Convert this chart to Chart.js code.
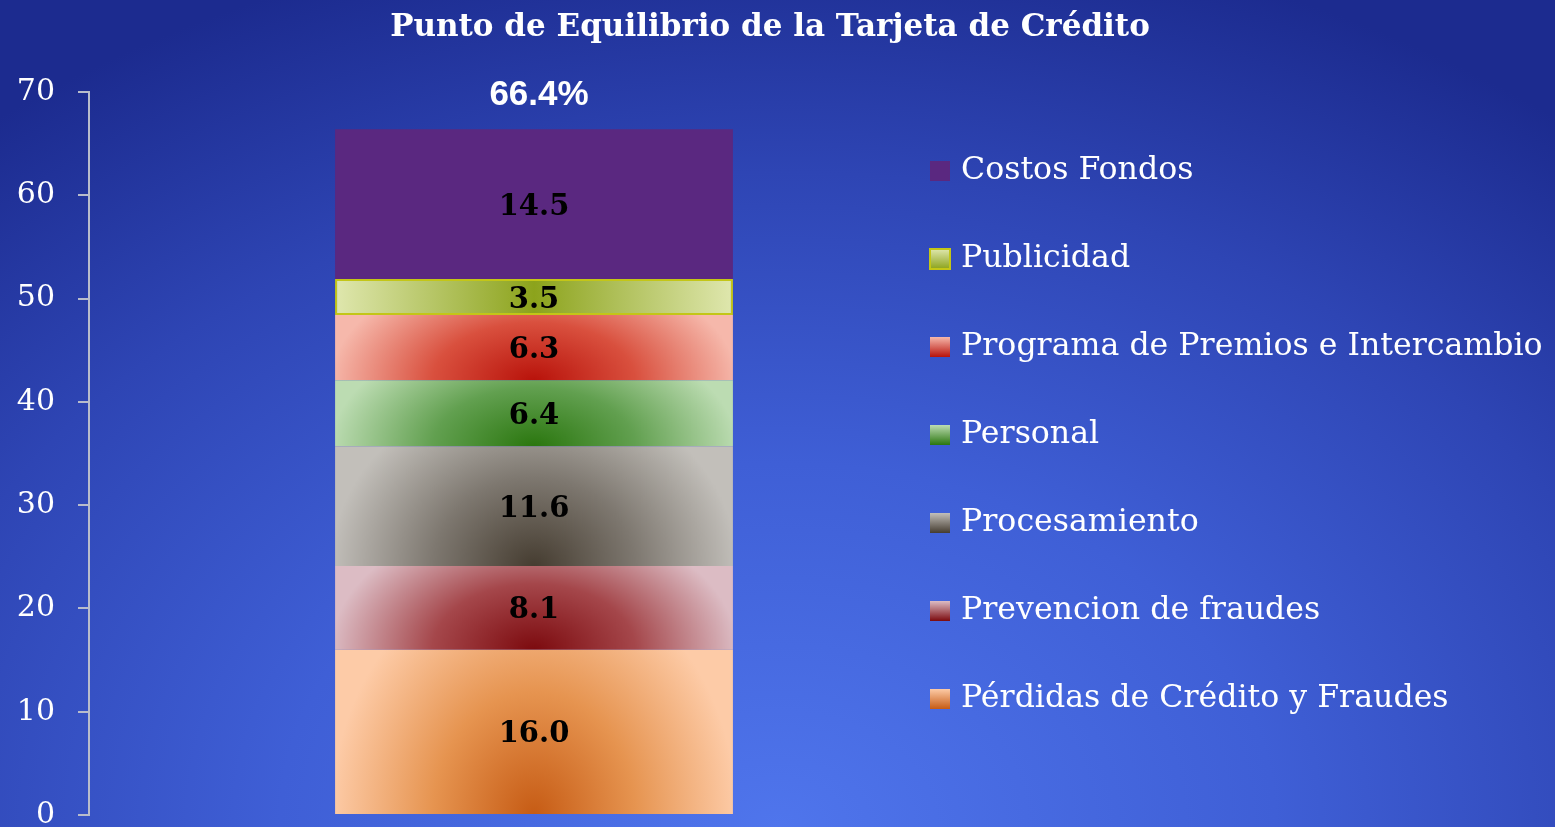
<!DOCTYPE html>
<html><head><meta charset="utf-8">
<script src="https://cdn.jsdelivr.net/npm/chart.js@4"></script>
<style>
html,body{margin:0;padding:0;width:1555px;height:827px;overflow:hidden;
background: radial-gradient(ellipse 80% 110% at 50% 100%, #4f75ec 0%, #3f5fd6 40%, #2e45b4 72%, #1c2b8f 100%);}
canvas{display:block}
</style></head><body>
<canvas id="c" width="1555" height="827"></canvas>
<script>
const categories = ['Punto de Equilibrio'];
const seriesNames = ['Pérdidas de Crédito y Fraudes','Prevencion de fraudes','Procesamiento','Personal','Programa de Premios e Intercambio','Publicidad','Costos Fondos'];
const seriesValues = [16.0, 8.1, 11.6, 6.4, 6.3, 3.5, 14.5];
const totalLabels = ['66.4%'];
const yTickValues = [0,10,20,30,40,50,60,70];
const chartTitle = 'Punto de Equilibrio de la Tarjeta de Crédito';

const palette = [
  {type:'radial', dark:'#c65b14', mid:'#e69450', light:'#fdcba7', ry:1.5},
  {type:'radial', dark:'#7c0a0e', mid:'#a5474b', light:'#dcbcc4', ry:1.6},
  {type:'radial', dark:'#453c30', mid:'#7e7870', light:'#c2bfba', ry:1.5},
  {type:'radial', dark:'#2a760e', mid:'#62a050', light:'#bcdcb2', ry:1.8},
  {type:'radial', dark:'#b8120a', mid:'#d9503e', light:'#f6b8ab', ry:1.8},
  {type:'linear', dark:'#8ca31c', mid:'#b3c25a', light:'#dfe7ae', border:'#c3c617'},
  {type:'solid', dark:'#5a2880', mid:'#5a2880', light:'#5a2880'}
];
const BAR_PCT = 0.447;
const SERIF = '"DejaVu Serif", serif';

function segBounds(chart, i){
  const s = chart.scales;
  const base = seriesValues.slice(0,i).reduce((a,b)=>a+b,0);
  const yb = s.y.getPixelForValue(base);
  const yt = s.y.getPixelForValue(base+seriesValues[i]);
  const cx = s.x.getPixelForValue(0);
  const w = (chart.chartArea.right-chart.chartArea.left)*BAR_PCT;
  return {yb, yt, cx, w};
}
function makeBg(i){
  return (ctx) => {
    const chart = ctx.chart, p = palette[i];
    if (!chart.chartArea || !chart.scales.y) return p.mid;
    if (p.type==='solid') return p.dark;
    const {yb, yt, cx, w} = segBounds(chart, i);
    const c = chart.ctx;
    if (p.type==='linear'){
      const g = c.createLinearGradient(cx-w/2,0,cx+w/2,0);
      g.addColorStop(0,p.light); g.addColorStop(0.5,p.dark); g.addColorStop(1,p.light);
      return g;
    }
    const W = Math.ceil(w)+2, H = Math.ceil(yb-yt)+2;
    const off = document.createElement('canvas');
    off.width = W; off.height = H;
    const o = off.getContext('2d');
    const ry = (yb-yt)*p.ry, rx = w/2*1.02;
    o.save();
    o.translate(W/2, H);
    o.scale(1, ry/rx);
    const g = o.createRadialGradient(0,0,0,0,0,rx);
    g.addColorStop(0,p.dark); g.addColorStop(0.5,p.mid); g.addColorStop(1,p.light);
    o.fillStyle = g;
    o.fillRect(-W, -H*rx/ry*1.2, 2*W, H*rx/ry*2.4);
    o.restore();
    const pat = c.createPattern(off, 'repeat');
    pat.setTransform(new DOMMatrix().translate(cx - W/2, yb - H + 1));
    return pat;
  };
}

const datasets = seriesNames.map((name,i)=>({
  label:name,
  data:[seriesValues[i]],
  backgroundColor: makeBg(i),
  borderColor: palette[i].border || 'rgba(0,0,0,0)',
  borderWidth: palette[i].border ? 2 : 0,
  borderSkipped: false,
  categoryPercentage: 1,
  barPercentage: BAR_PCT
}));

const labelPlugin = {
  id:'segLabels',
  afterDatasetsDraw(chart){
    const c = chart.ctx;
    c.save();
    c.fillStyle = '#000';
    c.font = 'bold 29px ' + SERIF;
    c.textAlign = 'center'; c.textBaseline = 'middle';
    let topY = Infinity, cxTop = 0;
    chart.data.datasets.forEach((ds, i)=>{
      const el = chart.getDatasetMeta(i).data[0];
      if(!el) return;
      const cp = el.getCenterPoint();
      c.fillText(ds.data[0].toFixed(1), cp.x, cp.y + 3);
      if (el.y < topY){ topY = el.y; cxTop = el.x; }
    });
    c.fillStyle = '#fff';
    c.font = 'bold 35px "Liberation Sans", Arial, sans-serif';
    c.fillText(totalLabels[0], cxTop + 5, topY - 34);
    c.restore();
  }
};

const titlePlugin = {
  id:'topTitle',
  afterDraw(chart){
    const c = chart.ctx;
    c.save();
    c.fillStyle = '#fff';
    c.font = 'bold 31px ' + SERIF;
    c.textAlign = 'center'; c.textBaseline = 'middle';
    c.fillText(chartTitle, 770, 28);
    c.restore();
  }
};

const legendPlugin = {
  id:'sideLegend',
  afterDraw(chart){
    const c = chart.ctx;
    const items = chart.data.datasets.map((d,i)=>({label:d.label, i})).reverse();
    const x0 = chart.chartArea.right - 49, y0 = 171, step = 88, box = 20;
    c.save();
    c.textBaseline = 'middle'; c.textAlign = 'left';
    c.font = '31.6px ' + SERIF;
    items.forEach((it, k)=>{
      const y = y0 + k*step, p = palette[it.i];
      let fill;
      if (p.type==='solid') fill = p.dark;
      else { fill = c.createLinearGradient(0, y-box/2, 0, y+box/2); fill.addColorStop(0,p.light); fill.addColorStop(1,p.dark); }
      c.fillStyle = fill;
      c.fillRect(x0, y-box/2, box, box);
      if (p.border){ c.strokeStyle = p.border; c.lineWidth = 2; c.strokeRect(x0, y-box/2, box, box); }
      c.fillStyle = '#fff';
      c.fillText(it.label, x0 + 31, y);
    });
    c.restore();
  }
};

new Chart(document.getElementById('c'), {
  type:'bar',
  data:{labels:categories, datasets},
  options:{
    responsive:false,
    animation:false,
    layout:{padding:{top:92, right:576, bottom:12, left:0}},
    plugins:{
      legend:{display:false},
      tooltip:{enabled:false},
      title:{display:false}
    },
    scales:{
      x:{display:false, stacked:true},
      y:{stacked:true, min:0, max:70,
        afterBuildTicks(s){ s.ticks = yTickValues.map(v=>({value:v})); },
        ticks:{color:'#fff', font:{family:SERIF, size:30}, padding:23},
        grid:{drawOnChartArea:false, tickLength:11, color:'#b8bccb', lineWidth:2},
        border:{color:'#b8bccb', width:2},
        afterFit(s){ s.width = 89; s.paddingTop = 0; s.paddingBottom = 0; }
      }
    }
  },
  plugins:[labelPlugin, titlePlugin, legendPlugin]
});
</script>
</body></html>
